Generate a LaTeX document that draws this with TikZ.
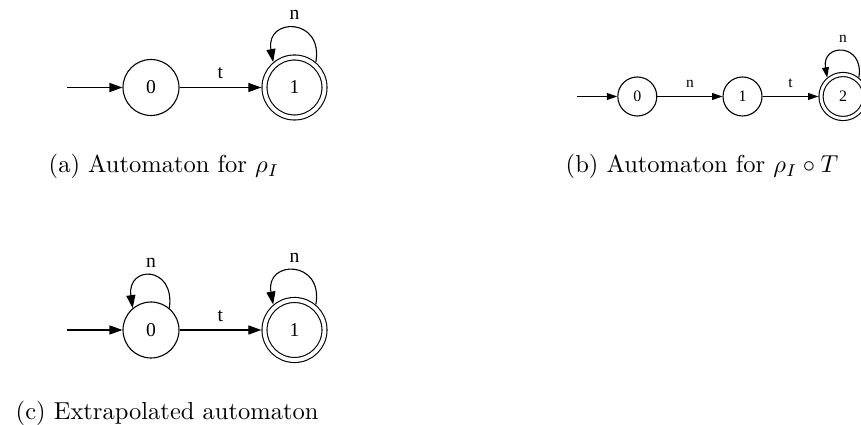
\documentclass[tikz,border=0pt]{standalone}
\usepackage{fontspec}
\usepackage{tikz}
\usetikzlibrary{arrows.meta}
\newfontfamily\dotfont{Liberation Serif}
\newlength\pxu
\setlength\pxu{0.408pt}

\begin{document}
\begin{tikzpicture}[x=\pxu,y=-\pxu,line width=0.45pt,
  state/.style={draw,circle,inner sep=0pt,minimum size=56\pxu,font=\dotfont\fontsize{8}{9}\selectfont},
  accept/.style={state,double,double distance=3.9\pxu,minimum size=60\pxu,outer sep=3.2\pxu},
  sstate/.style={draw,circle,inner sep=0pt,minimum size=39\pxu,font=\dotfont\fontsize{6.5}{7.5}\selectfont},
  saccept/.style={sstate,double,double distance=3\pxu,minimum size=44\pxu,outer sep=2.6\pxu},
  lab/.style={font=\dotfont\fontsize{8}{9}\selectfont},
  slab/.style={font=\dotfont\fontsize{6.3}{7}\selectfont},
  bigarr/.style={-{Triangle[length=5.3pt,width=3.7pt]}},
  smallarr/.style={-{Triangle[length=4.2pt,width=2.8pt]}}]
  \clip (0,0) rectangle (861,425);
  \node[state] (a0) at (151,87.5) {0};
  \node[accept] (a1) at (294.5,87.5) {1};
  \coordinate (a0in) at (67,87.5);
  \draw[bigarr] (a0in) -- (a0);
  \draw[bigarr] (a0) -- node[lab,above] {t} (a1);
  \draw[bigarr] (a1.50) .. controls +(8,-45) and +(-8,-45) .. node[lab,above] {n} (a1.130);
  \node[anchor=base west] (capa) at (40,173) {(a) Automaton for $\rho_I$};

  \node[sstate] (b0) at (637.3,96.5) {0};
  \node[sstate] (b1) at (742.5,96.5) {1};
  \node[saccept] (b2) at (843,96.5) {2};
  \coordinate (b0in) at (577,96.5);
  \draw[smallarr] (b0in) -- (b0);
  \draw[smallarr] (b0) -- node[slab,above] {n} (b1);
  \draw[smallarr] (b1) -- node[slab,above] {t} (b2);
  \draw[smallarr] (b2.50) .. controls +(6,-35) and +(-6,-35) .. node[slab,above] {n} (b2.130);
  \node[anchor=base west] (capb) at (557,173) {(b) Automaton for $\rho_I\circ T$};

  \node[state] (c0) at (151,330) {0};
  \node[accept] (c1) at (294.5,330) {1};
  \coordinate (c0in) at (67,330);
  \draw[bigarr] (c0in) -- (c0);
  \draw[bigarr] (c0) -- node[lab,above] {t} (c1);
  \draw[bigarr] (c0.50) .. controls +(6,-43) and +(-6,-43) .. node[lab,above] {n} (c0.130);
  \draw[bigarr] (c1.50) .. controls +(8,-45) and +(-8,-45) .. node[lab,above] {n} (c1.130);
  \node[anchor=base west] (capc) at (7,420) {(c) Extrapolated automaton};
\end{tikzpicture}
\end{document}
